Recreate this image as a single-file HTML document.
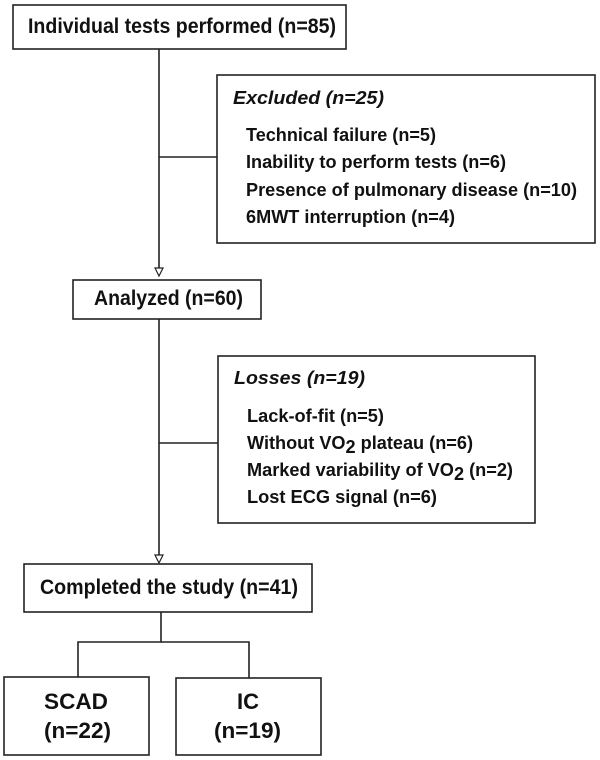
<!DOCTYPE html>
<html><head><meta charset="utf-8"><style>html,body{margin:0;padding:0;background:#fff}svg{display:block}</style></head>
<body>
<svg width="600" height="760" viewBox="0 0 600 760" xmlns="http://www.w3.org/2000/svg" font-family="'Liberation Sans', Arial, sans-serif" font-weight="bold" fill="#111">
<g fill="none" stroke="#222" stroke-width="1.6">
<rect x="13" y="5" width="333" height="44"/>
<rect x="217" y="75" width="378" height="168"/>
<rect x="73" y="280" width="188" height="39"/>
<rect x="218" y="356" width="317" height="167"/>
<rect x="24" y="564" width="288" height="48"/>
<rect x="4" y="677" width="145" height="78"/>
<rect x="176" y="678" width="145" height="77"/>
<line x1="159" y1="49" x2="159" y2="269"/>
<line x1="159" y1="157" x2="217" y2="157"/>
<line x1="159" y1="319" x2="159" y2="556"/>
<line x1="159" y1="443" x2="218" y2="443"/>
<polyline points="161,612 161,642 78,642 78,677"/>
<polyline points="161,642 249,642 249,678"/>
</g>
<g fill="#fff" stroke="#222" stroke-width="1.2">
<polygon points="155,268 163,268 159,276"/>
<polygon points="155,555 163,555 159,563"/>
</g>
<g font-size="21">
<text x="28" y="33" textLength="308" lengthAdjust="spacingAndGlyphs">Individual tests performed (n=85)</text>
<text x="94" y="305" textLength="149" lengthAdjust="spacingAndGlyphs">Analyzed (n=60)</text>
<text x="40" y="594" textLength="258" lengthAdjust="spacingAndGlyphs">Completed the study (n=41)</text>
</g>
<g font-size="22">
<text x="44" y="709" textLength="64" lengthAdjust="spacingAndGlyphs">SCAD</text>
<text x="44" y="738" textLength="67" lengthAdjust="spacingAndGlyphs">(n=22)</text>
<text x="237" y="709" textLength="22" lengthAdjust="spacingAndGlyphs">IC</text>
<text x="214" y="738" textLength="67" lengthAdjust="spacingAndGlyphs">(n=19)</text>
</g>
<g font-size="18">
<text x="233" y="104" font-style="italic" textLength="151" lengthAdjust="spacingAndGlyphs">Excluded (n=25)</text>
<text x="246" y="141" textLength="190" lengthAdjust="spacingAndGlyphs">Technical failure (n=5)</text>
<text x="246" y="168" textLength="260" lengthAdjust="spacingAndGlyphs">Inability to perform tests (n=6)</text>
<text x="246" y="196" textLength="331" lengthAdjust="spacingAndGlyphs">Presence of pulmonary disease (n=10)</text>
<text x="246" y="223" textLength="209" lengthAdjust="spacingAndGlyphs">6MWT interruption (n=4)</text>
<text x="234" y="384" font-style="italic" textLength="131" lengthAdjust="spacingAndGlyphs">Losses (n=19)</text>
<text x="247" y="422" textLength="137" lengthAdjust="spacingAndGlyphs">Lack-of-fit (n=5)</text>
<text x="247" y="449" textLength="226" lengthAdjust="spacingAndGlyphs">Without VO<tspan dy="4">2</tspan><tspan dy="-4"> plateau (n=6)</tspan></text>
<text x="247" y="476" textLength="266" lengthAdjust="spacingAndGlyphs">Marked variability of VO<tspan dy="4">2</tspan><tspan dy="-4"> (n=2)</tspan></text>
<text x="247" y="503" textLength="190" lengthAdjust="spacingAndGlyphs">Lost ECG signal (n=6)</text>
</g>
</svg>
</body></html>
